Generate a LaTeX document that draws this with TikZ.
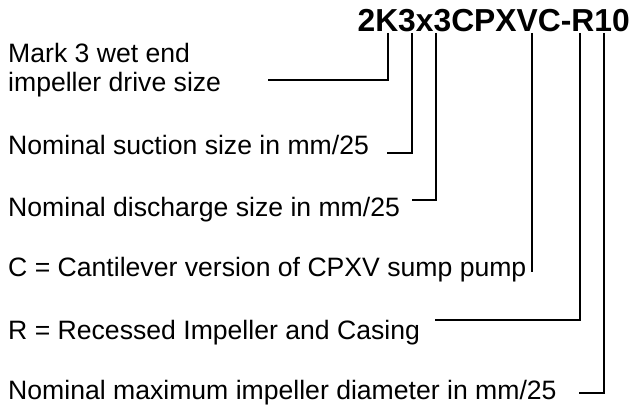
\documentclass[tikz,border=0pt]{standalone}
\usepackage{fontspec}
\setmainfont{Liberation Sans}
\begin{document}
\begin{tikzpicture}[x=1pt,y=-1pt,
  lbl/.style={anchor=base west,inner sep=0pt,font=\fontsize{26.6}{30}\selectfont},
  ttl/.style={anchor=base east,inner sep=0pt,font=\fontsize{31.8}{34}\selectfont\bfseries},
  conn/.style={draw=black,line width=1.2pt}]
\useasboundingbox (0,0) rectangle (633,406);
\node[ttl] (code) at (630,32) {2K3x3CPXVC-R10};
% label nodes
\node[lbl] (mark1) at (8,63) {Mark 3 wet end};
\node[lbl] (mark2) at (8,92) {impeller drive size};
\node[lbl] (suc) at (8,155) {Nominal suction size in mm/25};
\node[lbl] (dis) at (8,217) {Nominal discharge size in mm/25};
\node[lbl] (cant) at (8,277) {C = Cantilever version of CPXV sump pump};
\node[lbl] (rec) at (8,340) {R = Recessed Impeller and Casing};
\node[lbl] (dia) at (8,400) {Nominal maximum impeller diameter in mm/25};
% connector points under the code letters
\coordinate (tK) at (388,33);
\coordinate (tS) at (412,33);
\coordinate (tD) at (436,33);
\coordinate (tC) at (532,33);
\coordinate (tR) at (580,33);
\coordinate (tN) at (604,33);
% free ends
\coordinate (eK) at (268,80);
\coordinate (eS) at (387,153);
\coordinate (eD) at (412,200);
\coordinate (eC) at (532,272);
\coordinate (eR) at (435,320);
\coordinate (eN) at (579,393);
\draw[conn] (tK) |- (eK);
\draw[conn] (tS) |- (eS);
\draw[conn] (tD) |- (eD);
\draw[conn] (tC) -- (eC);
\draw[conn] (tR) |- (eR);
\draw[conn] (tN) |- (eN);
\end{tikzpicture}
\end{document}
